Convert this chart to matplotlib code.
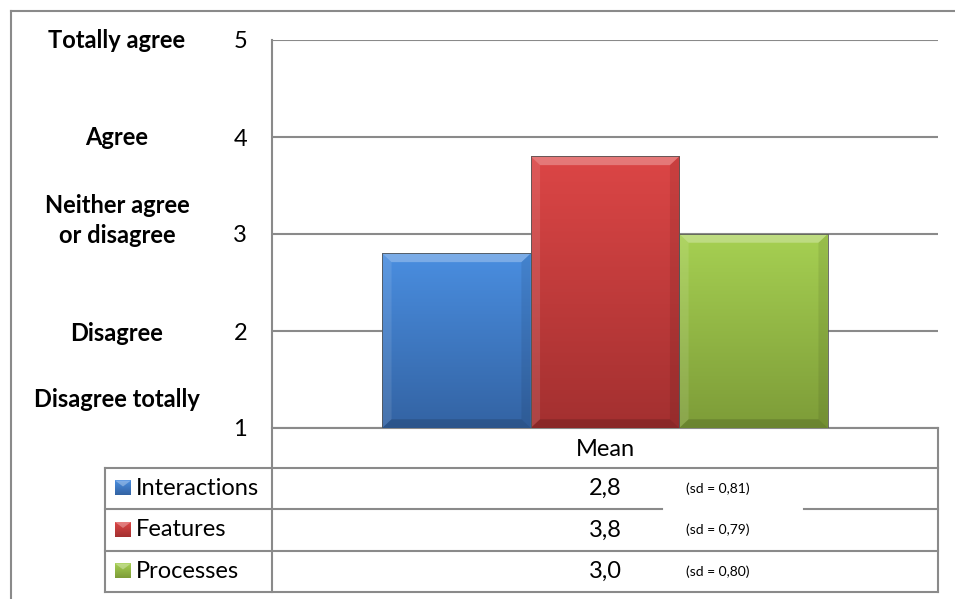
import numpy as np
import matplotlib.pyplot as plt
from matplotlib.patches import Polygon
from matplotlib.colors import LinearSegmentedColormap
from matplotlib.transforms import blended_transform_factory

plt.rcParams['font.family'] = ['Lato', 'DejaVu Sans']

# survey results
series = ['Interactions', 'Features', 'Processes']
means = [2.8, 3.8, 3.0]
sds = [0.81, 0.79, 0.80]
category = 'Mean'

# likert scale
ticks = [1, 2, 3, 4, 5]
scale_labels = ['Totally agree', 'Agree', 'Neither agree\nor disagree', 'Disagree', 'Disagree totally']
scale_pos = [5.0, 3.99, 3.14, 1.97, 1.29]

# (top colour, bottom colour) for the bar gradients
shades = [('#4a8ee0', '#3363a3'), ('#dc4646', '#a33030'), ('#a6d052', '#7d9c38')]

W, H = 955, 599
fig = plt.figure(figsize=(W / 100, H / 100), dpi=100)

# pixel-space layer for the frame and the data table
lay = fig.add_axes([0, 0, 1, 1], zorder=0)
lay.set_xlim(0, W)
lay.set_ylim(H, 0)
lay.axis('off')

grid_c = '#8a8a8a'
txt_c = '#000000'
fs = 17
x_l, x_r = 272, 938
y_top, y_base = 40, 428
row_y = [428, 468, 509, 551, 592]
tab_l = 105

ax = fig.add_axes([x_l / W, (H - y_base) / H, (x_r - x_l) / W, (y_base - y_top) / H], zorder=1)
ax.patch.set_alpha(0)
ax.set_xlim(-0.5, 0.5)
ax.set_ylim(1, 5)
for s in ax.spines.values():
    s.set_visible(False)
ax.set_xticks([])
ax.set_yticks(ticks)
ax.set_yticklabels([str(t) for t in ticks], fontsize=fs, color=txt_c)
ax.tick_params(axis='y', length=0, pad=18)
for t in ticks:
    ax.axhline(t, color=grid_c, lw=1.5, zorder=0)

# bars with a vertical gradient and bevelled edges
bw = 0.223
xs = (np.arange(len(series)) - 1) * bw
bars = ax.bar(xs, np.array(means) - 1, bottom=1, width=bw, color='none',
              edgecolor='#555555', linewidth=0.6, zorder=3)
grad = np.linspace(0, 1, 200).reshape(-1, 1)
dx, dy = 0.014, 0.09
for bar, (c_top, c_bot) in zip(bars, shades):
    x0, y0 = bar.get_x(), bar.get_y()
    w, h = bar.get_width(), bar.get_height()
    cmap = LinearSegmentedColormap.from_list('g', [c_top, c_bot])
    im = ax.imshow(grad, cmap=cmap, extent=(x0, x0 + w, y0, y0 + h),
                   aspect='auto', origin='upper', zorder=2)
    im.set_clip_path(bar)
    x1, y1 = x0 + w, y0 + h
    ax.add_patch(Polygon([(x0, y1), (x1, y1), (x1 - dx, y1 - dy), (x0 + dx, y1 - dy)],
                         closed=True, color='white', alpha=0.28, lw=0, zorder=2.5))
    ax.add_patch(Polygon([(x0, y1), (x0 + dx, y1 - dy), (x0 + dx, y0 + dy), (x0, y0)],
                         closed=True, color='white', alpha=0.10, lw=0, zorder=2.5))
    ax.add_patch(Polygon([(x1, y1), (x1 - dx, y1 - dy), (x1 - dx, y0 + dy), (x1, y0)],
                         closed=True, color='black', alpha=0.08, lw=0, zorder=2.5))
    ax.add_patch(Polygon([(x0, y0), (x1, y0), (x1 - dx, y0 + dy), (x0 + dx, y0 + dy)],
                         closed=True, color='black', alpha=0.15, lw=0, zorder=2.5))

# likert labels next to the value axis
tr = blended_transform_factory(lay.transData, ax.transData)
for lab, pos in zip(scale_labels, scale_pos):
    ax.text(117, pos, lab, transform=tr, ha='center', va='center',
            fontsize=fs, fontweight='bold', linespacing=1.35, color=txt_c)

# outer frame
lay.plot([11, 11], [H + 5, 11], color=grid_c, lw=1.5)
lay.plot([11, W + 5], [11, 11], color=grid_c, lw=1.5)

# data table grid
lay.plot([x_l, x_l], [y_top, row_y[-1]], color=grid_c, lw=1.5)
lay.plot([x_r, x_r], [row_y[0], row_y[-1]], color=grid_c, lw=1.5)
lay.plot([tab_l, tab_l], [row_y[1], row_y[-1]], color=grid_c, lw=1.5)
for i, y in enumerate(row_y):
    left = x_l if i == 0 else tab_l
    if i == 2:
        lay.plot([left, 662], [y, y], color=grid_c, lw=1.5)
        lay.plot([804, x_r], [y, y], color=grid_c, lw=1.5)
    else:
        lay.plot([left, x_r], [y, y], color=grid_c, lw=1.5)

x_mid = (x_l + x_r) / 2
lay.text(x_mid, (row_y[0] + row_y[1]) / 2 + 1, category, ha='center', va='center',
         fontsize=fs, color=txt_c)

for i, (name, m, sd) in enumerate(zip(series, means, sds)):
    yc = (row_y[i + 1] + row_y[i + 2]) / 2
    c_top, c_bot = shades[i]
    # small bevelled legend key
    k0, k1 = 115, 131
    cm = LinearSegmentedColormap.from_list('k', [c_top, c_bot])
    lay.imshow(grad, cmap=cm, extent=(k0, k1, yc + 7, yc - 8), aspect='auto',
               origin='upper', zorder=2)
    lay.add_patch(Polygon([(k0, yc - 8), (k1, yc - 8), ((k0 + k1) / 2, yc - 2)],
                          closed=True, color='white', alpha=0.3, lw=0, zorder=3))
    lay.text(136, yc, name, ha='left', va='center', fontsize=fs, color=txt_c)
    lay.text(x_mid, yc, f'{m:.1f}'.replace('.', ','), ha='center', va='center',
             fontsize=fs, color=txt_c)
    lay.text(686, yc, f'(sd = {sd:.2f})'.replace('.', ','), ha='left', va='center',
             fontsize=10, color=txt_c)

fig.savefig('out.png', dpi=100)
